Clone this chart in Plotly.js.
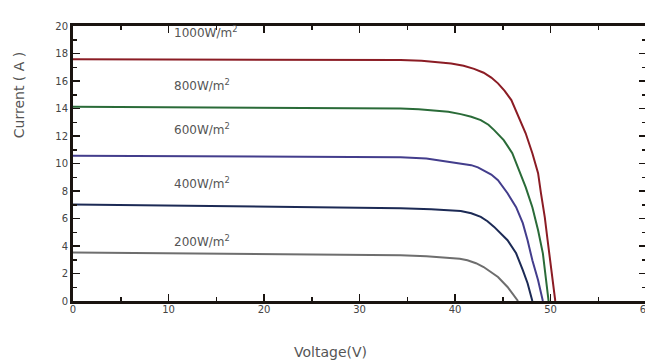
<!DOCTYPE html>
<html>
<head>
<meta charset="utf-8">
<script src="https://cdn.plot.ly/plotly-3.0.1.min.js"></script>
<style>
html,body{margin:0;padding:0;background:#fff;overflow:hidden;}
#wrap{width:645px;height:360px;overflow:hidden;position:relative;}
#chart{width:655px;height:360px;}
</style>
</head>
<body>
<div id="wrap"><div id="chart"></div></div>
<script>
// Irradiance series labels
const seriesNames = ["1000W/m<sup>2</sup>", "800W/m<sup>2</sup>", "600W/m<sup>2</sup>", "400W/m<sup>2</sup>", "200W/m<sup>2</sup>"];

// I-V curve data (Voltage in V, Current in A)
const v1000 = [0, 10, 20, 30, 34.3, 36.5, 38.2, 39.6, 40.9, 42.0, 43.0, 43.8, 44.5, 45.2, 45.9, 46.7, 47.4, 48.1, 48.7, 49.0, 49.4, 49.7, 50.05, 50.3, 50.5];
const i1000 = [17.58, 17.57, 17.55, 17.53, 17.52, 17.48, 17.40, 17.28, 17.11, 16.88, 16.6, 16.25, 15.83, 15.28, 14.61, 13.37, 12.2, 10.75, 9.3, 7.85, 6.1, 4.4, 2.45, 1.0, 0];

const v800 = [0, 10, 20, 30, 34.3, 36.2, 37.8, 39.3, 40.6, 41.7, 42.7, 43.5, 44.1, 45.1, 46.0, 46.7, 47.4, 48.1, 48.7, 49.2, 49.5, 49.8];
const i800 = [14.12, 14.09, 14.06, 14.02, 14.0, 13.95, 13.88, 13.76, 13.59, 13.4, 13.16, 12.82, 12.43, 11.7, 10.75, 9.51, 8.28, 6.82, 5.15, 3.47, 1.73, 0];

const v600 = [0, 10, 20, 30, 34.3, 37.0, 39.6, 40.7, 41.7, 42.4, 43.0, 43.8, 44.5, 45.5, 46.4, 47.1, 47.6, 48.1, 48.7, 49.2];
const i600 = [10.56, 10.54, 10.51, 10.48, 10.46, 10.36, 10.12, 10.02, 9.88, 9.72, 9.52, 9.2, 8.79, 7.84, 6.82, 5.66, 4.42, 2.96, 1.51, 0];

const v400 = [0, 10, 20, 30, 34.3, 37.5, 40.6, 41.7, 42.7, 43.4, 44.1, 45.5, 46.4, 47.1, 47.6, 48.1];
const i400 = [7.02, 6.95, 6.88, 6.8, 6.75, 6.67, 6.55, 6.38, 6.12, 5.8, 5.39, 4.42, 3.47, 2.24, 1.29, 0];

const v200 = [0, 10, 20, 30, 34.3, 37.0, 39.6, 40.5, 41.3, 42.2, 43.0, 44.5, 45.5, 46.2, 46.6];
const i200 = [3.52, 3.48, 3.43, 3.37, 3.33, 3.26, 3.16, 3.08, 2.96, 2.75, 2.47, 1.75, 1.02, 0.41, 0];

// Label anchor values (voltage, current) for the irradiance labels
const labelV = [10.4, 10.4, 10.4, 10.4, 10.4];
const labelI = [19.56, 15.7, 12.54, 8.57, 4.35];

const xTickVals = [0, 10, 20, 30, 40, 50, 60];
const yTickVals = [0, 2, 4, 6, 8, 10, 12, 14, 16, 18, 20];

const colors = ["#8b1c24", "#2a6b38", "#433d8c", "#1c2a55", "#6e6e6e"];
const xs = [v1000, v800, v600, v400, v200];
const ys = [i1000, i800, i600, i400, i200];

const traces = xs.map((x, k) => ({
  x: x, y: ys[k], type: "scatter", mode: "lines",
  line: {color: colors[k], width: 2, shape: "linear"},
  hoverinfo: "skip", showlegend: false
}));

const axisColor = "#1a1410";
const tickFont = {family: "DejaVu Sans, Arial, sans-serif", size: 10, color: "#444"};

const annotations = seriesNames.map((t, k) => ({
  x: labelV[k], y: labelI[k], xref: "x", yref: "y", text: t, showarrow: false,
  xanchor: "left", yanchor: "middle",
  font: {family: "DejaVu Sans, Arial, sans-serif", size: 12, color: "#555"}
}));
annotations.push({
  x: -0.094, y: 0.749, xref: "paper", yref: "paper", text: "Current ( A )",
  showarrow: false, textangle: -90, xanchor: "center", yanchor: "middle",
  font: {family: "DejaVu Sans, Arial, sans-serif", size: 14, color: "#555"}
});
annotations.push({
  x: 0.449, y: -0.187, xref: "paper", yref: "paper", text: "Voltage(V)",
  showarrow: false, xanchor: "center", yanchor: "middle",
  font: {family: "DejaVu Sans, Arial, sans-serif", size: 14, color: "#555"}
});

const layout = {
  width: 655, height: 360,
  margin: {l: 73, r: 9, t: 26, b: 59, pad: 0},
  paper_bgcolor: "#fff", plot_bgcolor: "#fff",
  showlegend: false,
  xaxis: {
    range: [0, 60], tickvals: xTickVals, ticktext: xTickVals.map(String),
    showgrid: false, zeroline: false, automargin: false,
    showline: true, linecolor: axisColor, linewidth: 3, mirror: "allticks",
    ticks: "inside", ticklen: 7, tickwidth: 1.5, tickcolor: axisColor,
    minor: {dtick: 5, ticks: "inside", ticklen: 4, tickwidth: 1.5, tickcolor: axisColor, showgrid: false},
    tickfont: tickFont, ticklabelstandoff: -3, fixedrange: true
  },
  yaxis: {
    range: [0, 20], tickvals: yTickVals, ticktext: yTickVals.map(String),
    showgrid: false, zeroline: false, automargin: false,
    showline: true, linecolor: axisColor, linewidth: 3, mirror: "allticks",
    ticks: "inside", ticklen: 7, tickwidth: 1.5, tickcolor: axisColor,
    minor: {dtick: 1, ticks: "inside", ticklen: 4, tickwidth: 1.5, tickcolor: axisColor, showgrid: false},
    tickfont: tickFont, fixedrange: true
  },
  annotations: annotations
};

Plotly.newPlot("chart", traces, layout, {staticPlot: true, displayModeBar: false});
</script>
</body>
</html>
